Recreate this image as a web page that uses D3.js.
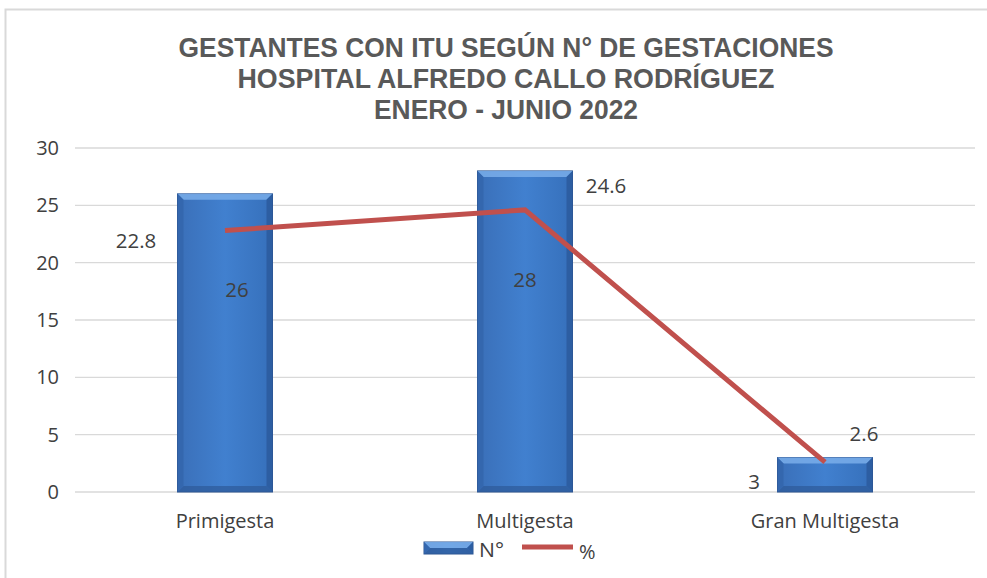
<html>
<head>
<meta charset="utf-8">
<style>
body { margin: 0; background: #fff; }
text { font-family: "Liberation Sans", Arial, sans-serif; }
</style>
</head>
<body>
<svg width="987" height="578" id="chart"></svg>

<script src="https://cdn.jsdelivr.net/npm/d3@7"></script>
<script>
// data
var categories = ["Primigesta", "Multigesta", "Gran Multigesta"];
var counts = [26, 28, 3];
var percents = [22.8, 24.6, 2.6];
var yTicks = [0, 5, 10, 15, 20, 25, 30];
var titleLines = ["GESTANTES CON ITU SEGÚN N° DE GESTACIONES",
                  "HOSPITAL ALFREDO CALLO RODRÍGUEZ",
                  "ENERO - JUNIO 2022"];

var svg = d3.select("#chart");
var defs = svg.append("defs");

var grad = defs.append("linearGradient").attr("id", "barFill")
    .attr("x1", 0).attr("y1", 0).attr("x2", 1).attr("y2", 0);
grad.append("stop").attr("offset", "0%").attr("stop-color", "#3a6fb8");
grad.append("stop").attr("offset", "50%").attr("stop-color", "#4180cf");
grad.append("stop").attr("offset", "100%").attr("stop-color", "#3670bb");

// outer frame
svg.append("path")
    .attr("d", "M5.5,578 L5.5,9.5 L987,9.5")
    .attr("fill", "none").attr("stroke", "#d9d9d9").attr("stroke-width", 2);

var plotL = 75, plotR = 975, plotT = 148, plotB = 492;

var x = d3.scaleBand().domain(categories).range([plotL, plotR]);
var y = d3.scaleLinear().domain([0, 30]).range([plotB, plotT]);

var labelFont = "'Open Sans', sans-serif";

// gridlines
svg.append("g").selectAll("line").data(yTicks).enter().append("line")
    .attr("x1", plotL).attr("x2", plotR)
    .attr("y1", function(d){ return y(d); }).attr("y2", function(d){ return y(d); })
    .attr("stroke", "#d9d9d9").attr("stroke-width", 1.3);

// y axis labels
var yAxis = d3.axisLeft(y).tickValues(yTicks).tickSize(0).tickPadding(12);
var ya = svg.append("g").attr("transform", "translate(" + (plotL - 4) + ",0)").call(yAxis);
ya.select(".domain").remove();
ya.selectAll("text").attr("font-size", 20).attr("fill", "#404040")
    .style("font-family", labelFont);

// x axis labels
var xAxis = d3.axisBottom(x).tickSize(0).tickPadding(22);
var xa = svg.append("g").attr("transform", "translate(0," + plotB + ")").call(xAxis);
xa.select(".domain").remove();
xa.selectAll("text").attr("font-size", 20).attr("fill", "#404040")
    .style("font-family", labelFont);

// bars with bevel
var bw = 95, bev = 6;
function drawBar(g, x0, y0, w, h) {
    g.append("rect").attr("x", x0).attr("y", y0).attr("width", w).attr("height", h)
        .attr("fill", "url(#barFill)").attr("stroke", "#2c5490").attr("stroke-width", 1);
    var b = Math.min(bev, h / 2);
    g.append("polygon").attr("points", [[x0,y0],[x0+w,y0],[x0+w-b,y0+b],[x0+b,y0+b]].join(" "))
        .attr("fill", "#7aaeea").attr("opacity", 0.85);
    g.append("polygon").attr("points", [[x0,y0+h],[x0+w,y0+h],[x0+w-b,y0+h-b],[x0+b,y0+h-b]].join(" "))
        .attr("fill", "#2d5a99").attr("opacity", 0.7);
    g.append("polygon").attr("points", [[x0,y0],[x0+b,y0+b],[x0+b,y0+h-b],[x0,y0+h]].join(" "))
        .attr("fill", "#3466ad").attr("opacity", 0.9);
    g.append("polygon").attr("points", [[x0+w,y0],[x0+w-b,y0+b],[x0+w-b,y0+h-b],[x0+w,y0+h]].join(" "))
        .attr("fill", "#2c5c9e").attr("opacity", 0.9);
}
var bars = svg.append("g");
categories.forEach(function(c, i) {
    var cx = x(c) + x.bandwidth() / 2;
    drawBar(bars, cx - bw / 2, y(counts[i]), bw, plotB - y(counts[i]));
});

// line
var line = d3.line()
    .x(function(d, i){ return x(categories[i]) + x.bandwidth() / 2; })
    .y(function(d){ return y(d); });
svg.append("path").datum(percents).attr("d", line)
    .attr("fill", "none").attr("stroke", "#c0504d").attr("stroke-width", 5);

// bar labels (offset from bar top; last one sits left of its bar)
var barLabelOff = [[12, 103], [0, 116], [-71, 0]];
categories.forEach(function(c, i) {
    var cx = x(c) + x.bandwidth() / 2;
    var ly = i < 2 ? y(counts[i]) + barLabelOff[i][1] : plotB - 3;
    svg.append("text").attr("x", cx + barLabelOff[i][0]).attr("y", ly)
        .attr("text-anchor", "middle").attr("font-size", 20.5).attr("fill", "#404040")
        .style("font-family", labelFont)
        .text(counts[i]);
});

// line labels
var lineLabelOff = [[-89, 17], [81, -17], [39, -21]];
categories.forEach(function(c, i) {
    var cx = x(c) + x.bandwidth() / 2;
    svg.append("text").attr("x", cx + lineLabelOff[i][0]).attr("y", y(percents[i]) + lineLabelOff[i][1])
        .attr("text-anchor", "middle").attr("font-size", 20.5).attr("fill", "#404040")
        .style("font-family", labelFont)
        .text(percents[i]);
});

// title
var titleW = [655, 537, 264];
titleLines.forEach(function(t, i) {
    svg.append("text").attr("x", 506).attr("y", 57 + i * 31)
        .attr("text-anchor", "middle").attr("font-size", 27).attr("font-weight", "bold")
        .attr("fill", "#595959")
        .style("font-family", "'Liberation Sans Narrow', 'Liberation Sans', sans-serif")
        .attr("textLength", titleW[i]).attr("lengthAdjust", "spacingAndGlyphs")
        .text(t);
});

// legend
var lg = svg.append("g");
drawBar(lg, 424, 542, 49, 12);
lg.append("text").attr("x", 479).attr("y", 557).attr("font-size", 20).attr("fill", "#404040")
    .attr("textLength", 25).attr("lengthAdjust", "spacingAndGlyphs")
    .style("font-family", labelFont).text("N°");
lg.append("line").attr("x1", 522).attr("x2", 573).attr("y1", 547).attr("y2", 547)
    .attr("stroke", "#c0504d").attr("stroke-width", 5);
lg.append("text").attr("x", 579).attr("y", 559).attr("font-size", 20).attr("fill", "#404040")
    .style("font-family", labelFont).text("%");
</script>
</body>
</html>
